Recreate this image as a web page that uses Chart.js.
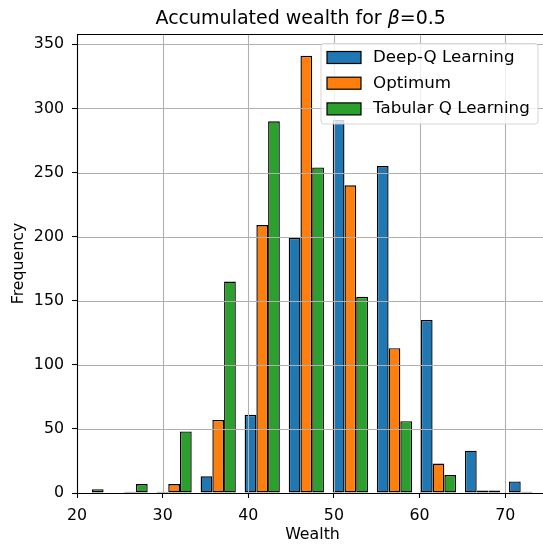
<!DOCTYPE html>
<html>
<head>
<meta charset="utf-8">
<script src="https://cdn.jsdelivr.net/npm/chart.js@4/dist/chart.umd.min.js"></script>
<style>
  html, body { margin: 0; padding: 0; background: #fff; overflow: hidden; }
  #wrap { width: 543px; height: 544px; overflow: hidden; }
</style>
</head>
<body>
<div id="wrap"><canvas id="wealthHist" width="548" height="544"></canvas></div>
<script>
/*
Data
*/
var binCenters = [21.05, 26.2, 31.34, 36.49, 41.63, 46.78, 51.92, 57.07, 62.21, 67.36, 72.5];
var deepQ   = [0, 0, 1, 13, 61, 199, 291, 255, 135, 33, 9];
var optimum = [0, 1, 7, 57, 209, 341, 240, 113, 23, 2, 1];
var tabular = [3, 7, 48, 165, 290, 254, 153, 56, 14, 2, 0];
var seriesNames = ['Deep-Q Learning', 'Optimum', 'Tabular Q Learning'];
var xTicks = [20, 30, 40, 50, 60, 70];
var yTicks = [0, 50, 100, 150, 200, 250, 300, 350];

var chartColors = {
    blue: '#1f77b4',
    orange: '#ff7f0e',
    green: '#2ca02c',
    grid: '#b0b0b0',
    edge: '#000000'
};
var FONT = '"DejaVu Sans", sans-serif';
var FS = 15.8;

function points(values) {
    return values.map(function (v, i) { return { x: binCenters[i], y: v }; });
}

// grid over the bars, frame, legend and texts (matplotlib look)
var overlay = {
    id: 'overlay',
    afterDatasetsDraw: function (chart) {
        var ctx = chart.ctx, a = chart.chartArea;
        var xs = chart.scales.x, ys = chart.scales.y;
        ctx.save();
        ctx.beginPath();
        ctx.rect(a.left, a.top, a.right - a.left, a.bottom - a.top);
        ctx.clip();
        ctx.strokeStyle = chartColors.grid;
        ctx.lineWidth = 1.1;
        xTicks.forEach(function (t) {
            var px = Math.round(xs.getPixelForValue(t)) + 0.5;
            ctx.beginPath(); ctx.moveTo(px, a.top); ctx.lineTo(px, a.bottom); ctx.stroke();
        });
        yTicks.forEach(function (t) {
            var py = Math.round(ys.getPixelForValue(t)) + 0.5;
            ctx.beginPath(); ctx.moveTo(a.left, py); ctx.lineTo(a.right, py); ctx.stroke();
        });
        ctx.restore();

        // frame
        ctx.save();
        ctx.strokeStyle = '#000';
        ctx.lineWidth = 1.1;
        ctx.beginPath();
        ctx.moveTo(a.right, a.top + 0.5); ctx.lineTo(a.left + 0.5, a.top + 0.5);
        ctx.lineTo(a.left + 0.5, a.bottom + 0.5); ctx.lineTo(a.right, a.bottom + 0.5);
        ctx.stroke();
        ctx.restore();

        // legend
        ctx.save();
        ctx.fillStyle = 'rgba(255,255,255,0.8)';
        ctx.strokeStyle = 'rgba(204,204,204,0.8)';
        ctx.lineWidth = 1;
        ctx.beginPath();
        ctx.roundRect(321, 43.5, 217, 80.5, 3);
        ctx.fill(); ctx.stroke();
        var colors = [chartColors.blue, chartColors.orange, chartColors.green];
        ctx.font = '16.7px ' + FONT;
        ctx.textBaseline = 'middle';
        for (var i = 0; i < seriesNames.length; i++) {
            var cy = 57.5 + i * 25.7;
            ctx.fillStyle = colors[i];
            ctx.fillRect(327, cy - 6, 34, 12);
            ctx.strokeStyle = '#000';
            ctx.lineWidth = 1.2;
            ctx.strokeRect(327, cy - 6, 34, 12);
            ctx.fillStyle = '#000';
            ctx.fillText(seriesNames[i], 373, cy);
        }
        ctx.restore();

        // title with italic beta
        ctx.save();
        ctx.fillStyle = '#000';
        ctx.textBaseline = 'alphabetic';
        var fN = '19px ' + FONT, fI = 'italic 19px ' + FONT;
        var p1 = 'Accumulated wealth for ', p2 = '\u03b2', p3 = '=0.5';
        ctx.font = fN; var w1 = ctx.measureText(p1).width, w3 = ctx.measureText(p3).width;
        ctx.font = fI; var w2 = ctx.measureText(p2).width;
        var x0 = 300.7 - (w1 + w2 + w3) / 2;
        ctx.font = fN; ctx.fillText(p1, x0, 24);
        ctx.font = fI; ctx.fillText(p2, x0 + w1, 24);
        ctx.font = fN; ctx.fillText(p3, x0 + w1 + w2, 24);

        // axis labels
        ctx.font = FS + 'px ' + FONT;
        ctx.textAlign = 'center';
        ctx.fillText('Wealth', (a.left + a.right) / 2, 539);
        ctx.translate(23, (a.top + a.bottom) / 2);
        ctx.rotate(-Math.PI / 2);
        ctx.fillText('Frequency', 0, 0);
        ctx.restore();
    }
};

function buildChart() {
    var ctx = document.getElementById('wealthHist').getContext('2d');
    var barStyle = {
        borderColor: chartColors.edge,
        borderWidth: 1.4,
        borderSkipped: false,
        categoryPercentage: 0.8,
        barPercentage: 1.0
    };
    new Chart(ctx, {
        type: 'bar',
        data: {
            datasets: [
                Object.assign({ label: seriesNames[0], data: points(deepQ), backgroundColor: chartColors.blue }, barStyle),
                Object.assign({ label: seriesNames[1], data: points(optimum), backgroundColor: chartColors.orange }, barStyle),
                Object.assign({ label: seriesNames[2], data: points(tabular), backgroundColor: chartColors.green }, barStyle)
            ]
        },
        options: {
            responsive: false,
            devicePixelRatio: 1,
            animation: false,
            events: [],
            layout: { padding: { top: 34, right: 0, left: 0, bottom: 0 } },
            plugins: {
                legend: { display: false },
                title: { display: false },
                tooltip: { enabled: false }
            },
            scales: {
                x: {
                    type: 'linear',
                    offset: false,
                    min: 20,
                    max: 75,
                    afterFit: function (s) { s.height = 51; },
                    afterBuildTicks: function (s) { s.ticks = xTicks.map(function (v) { return { value: v }; }); },
                    ticks: { font: { family: FONT, size: FS }, color: '#000', padding: 8, maxRotation: 0 },
                    grid: { offset: false, drawOnChartArea: false, drawTicks: true, tickLength: 5, tickColor: '#000', tickWidth: 1.1 },
                    border: { display: false }
                },
                y: {
                    min: 0,
                    max: 358.05,
                    afterFit: function (s) { s.width = 77; },
                    afterBuildTicks: function (s) { s.ticks = yTicks.map(function (v) { return { value: v }; }); },
                    ticks: { font: { family: FONT, size: FS }, color: '#000', padding: 8 },
                    grid: { drawOnChartArea: false, drawTicks: true, tickLength: 5, tickColor: '#000', tickWidth: 1.1 },
                    border: { display: false }
                }
            }
        },
        plugins: [overlay]
    });
}

buildChart();
</script>
</body>
</html>
